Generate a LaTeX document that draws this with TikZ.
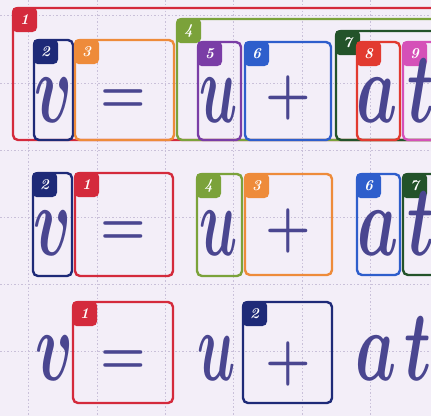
\documentclass[tikz,border=0pt]{standalone}
\usepackage{graphicx}
\definecolor{bg}{HTML}{F3EEF8}
\definecolor{gridc}{HTML}{C9C0D9}
\definecolor{txt}{HTML}{4A4690}
\definecolor{cred}{HTML}{D42A3C}
\definecolor{cnavy}{HTML}{1E2A78}
\definecolor{corange}{HTML}{EE8B3A}
\definecolor{colive}{HTML}{7BA23A}
\definecolor{cpurple}{HTML}{7A3DA6}
\definecolor{cblue}{HTML}{2E5ECC}
\definecolor{cdkgreen}{HTML}{23532A}
\definecolor{cred8}{HTML}{E23A30}
\definecolor{cmagenta}{HTML}{D550B8}
\newcommand{\labbox}[7]{%
  \draw[boxline, draw=#1] (#2,#3) rectangle (#4,#5);
  \node[tagnode, fill=#1, anchor=north west] (#7) at ({#2-1.2},{#3-1.2}) {#6};}
\newcommand{\bigv}[1]{\scalebox{6.3}[10]{\boldmath$#1$}}
\newcommand{\bigu}[1]{\scalebox{5.6}[10]{\boldmath$#1$}}
\newcommand{\biga}[1]{\scalebox{6.5}[10]{\boldmath$#1$}}
\newcommand{\bigop}[1]{\scalebox{5.1}[5.8]{\boldmath$#1$}}
\begin{document}
\begin{tikzpicture}[x=1pt,y=-1pt,
  gridline/.style={draw=gridc, line width=0.8pt, dash pattern=on 1.5pt off 2pt},
  boxline/.style={line width=2.4pt, rounded corners=5pt},
  tagnode/.style={rounded corners=4.5pt, minimum width=25pt, minimum height=25pt, inner sep=0pt,
    text=white, font=\fontsize{15}{15}\selectfont\bfseries\itshape},
  letter/.style={text=txt, inner sep=0pt, anchor=base},
  oper/.style={text=txt, inner sep=0pt, anchor=base}]
\useasboundingbox (0,0) rectangle (431,416);
\clip (0,0) rectangle (431,416);
\fill[bg] (0,0) rectangle (431,416);
\foreach \x in {28,97,165,233,302,370} \draw[gridline] (\x,0) -- (\x,416);
\foreach \y in {15,83,150,217,284,351} \draw[gridline] (0,\y) -- (431,\y);
% row 1
\labbox{cred}{13}{8}{445}{140}{1}{t11}
\labbox{colive}{177}{19}{445}{140}{4}{t14}
\labbox{cdkgreen}{336}{31}{445}{140}{7}{t17}
\labbox{cnavy}{34}{40}{73}{140}{2}{t12}
\labbox{corange}{75}{40}{174}{140}{3}{t13}
\labbox{cpurple}{198}{42}{241}{140}{5}{t15}
\labbox{cblue}{245}{42}{331}{140}{6}{t16}
\labbox{cred8}{357}{42}{400}{140}{8}{t18}
\labbox{cmagenta}{403}{42}{445}{140}{9}{t19}
\node[letter] (v1) at (54,122) {\bigv{v}};
\node[oper] (eq1) at (123,112.5) {\bigop{=}};
\node[letter] (u1) at (219,122) {\bigu{u}};
\node[oper] (pl1) at (288,112.5) {\bigop{+}};
\node[letter] (a1) at (377,122) {\biga{a}};
\node[letter] (tt1) at (421,122) {\biga{t}};
% row 2
\labbox{cnavy}{33}{173}{72}{276}{2}{t22}
\labbox{cred}{75}{173}{173}{276}{1}{t21}
\labbox{colive}{197}{174}{242}{276}{4}{t24}
\labbox{corange}{245}{174}{332}{275}{3}{t23}
\labbox{cblue}{357}{174}{400}{275}{6}{t26}
\labbox{cdkgreen}{403}{174}{445}{275}{7}{t27}
\node[letter] (v2) at (53,255) {\bigv{v}};
\node[oper] (eq2) at (123,244.5) {\bigop{=}};
\node[letter] (u2) at (219,255) {\bigu{u}};
\node[oper] (pl2) at (288,245) {\bigop{+}};
\node[letter] (a2) at (378,255) {\biga{a}};
\node[letter] (tt2) at (421,255) {\biga{t}};
% row 3
\labbox{cred}{73}{302}{173}{403}{1}{t31}
\labbox{cnavy}{243}{302}{332}{403}{2}{t32}
\node[letter] (v3) at (55,380) {\bigv{v}};
\node[oper] (eq3) at (123,373.5) {\bigop{=}};
\node[letter] (u3) at (217,380) {\bigu{u}};
\node[oper] (pl3) at (288,378) {\bigop{+}};
\node[letter] (a3) at (376,380) {\biga{a}};
\node[letter] (tt3) at (418,380) {\biga{t}};
\end{tikzpicture}
\end{document}
